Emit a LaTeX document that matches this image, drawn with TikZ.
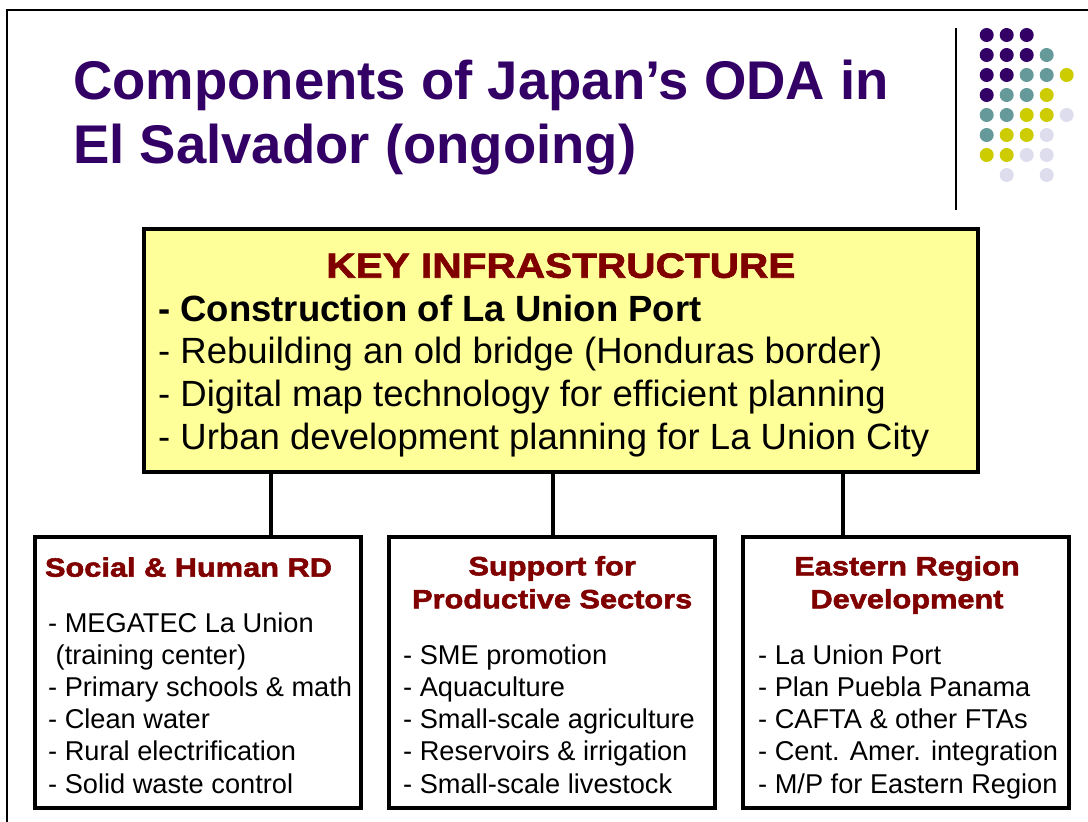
\documentclass[tikz,border=0pt]{standalone}
\usepackage{fontspec}
\setmainfont{Liberation Sans}
\newfontfamily\headfont{Liberation Sans}[FakeStretch=1.16,FakeBold=2]
\usepackage{xcolor}
\usepackage{tikz}

\definecolor{odapurple}{HTML}{330066}
\definecolor{odared}{HTML}{800000}
\definecolor{odayellow}{HTML}{FFFF99}
\definecolor{dotteal}{HTML}{669999}
\definecolor{dotolive}{HTML}{CCCC00}
\definecolor{dotlilac}{HTML}{DDDDEE}

\begin{document}
\begin{tikzpicture}[x=1pt,y=-1pt]
    \tikzset{
      keybox/.style={draw, line width=4pt, fill=odayellow, minimum width=834pt, minimum height=243pt, inner sep=0pt},
      subbox/.style={draw, line width=4pt, fill=white, minimum width=326.5pt, minimum height=271pt, inner sep=0pt},
      title/.style={anchor=base west, inner sep=0pt, text=odapurple, font=\bfseries\fontsize{54.5}{65}\selectfont},
      keyhead/.style={anchor=base, inner sep=0pt, text=odared, font=\headfont\bfseries\fontsize{35}{40}\selectfont},
      head/.style={anchor=base, inner sep=0pt, align=center, text=odared, font=\headfont\bfseries\fontsize{26.5}{33}\selectfont},
      keyitem/.style={anchor=base west, inner sep=0pt, font=\fontsize{36.5}{43}\selectfont},
      item/.style={anchor=base west, inner sep=0pt, font=\fontsize{27.2}{32}\selectfont},
      link/.style={line width=4pt}
    }
    \useasboundingbox (0,0) rectangle (1088,822);
    \draw[line width=2pt] (1088,10) -- (7,10) -- (7,822);
    % title and dot pattern
    \node[title] (title1) at (73,99) {Components of Japan’s ODA in};
    \node[title] (title2) at (73,163) {El Salvador (ongoing)};
    \draw[line width=1.2pt] (956,28) -- (956,210);
    \foreach \c/\r in {0/0,1/0,2/0,0/1,1/1,2/1,0/2,1/2,0/3}
      \fill[odapurple] ({986.7+20*\c},{35+20*\r}) circle (7pt);
    \foreach \c/\r in {3/1,2/2,3/2,1/3,2/3,0/4,1/4,0/5}
      \fill[dotteal] ({986.7+20*\c},{35+20*\r}) circle (7pt);
    \foreach \c/\r in {4/2,3/3,2/4,3/4,1/5,2/5,0/6,1/6}
      \fill[dotolive] ({986.7+20*\c},{35+20*\r}) circle (7pt);
    \foreach \c/\r in {4/4,3/5,2/6,3/6,1/7,3/7}
      \fill[dotlilac] ({986.7+20*\c},{35+20*\r}) circle (7pt);
    % boxes
    \node[keybox] (key) at (560.9,350.5) {};
    \node[subbox] (social) at (197.75,672.5) {};
    \node[subbox] (productive) at (552.2,672.5) {};
    \node[subbox] (eastern) at (906,672.5) {};
    \foreach \x/\name in {270.5/social,552.7/productive,843/eastern} {
      \coordinate (j\name) at (\x,500);
      \draw[link] (j\name |- key.south) -- (j\name |- \name.north);
    }
    % key infrastructure
    \node[keyhead] (keytitle) at (560.9,277.7) {KEY INFRASTRUCTURE};
    \foreach \t [count=\i] in {{\bfseries - Construction of La Union Port},
        {- Rebuilding an old bridge (Honduras border)},
        {- Digital map technology for efficient planning},
        {- Urban development planning for La Union City}}
      \node[keyitem] (k\i) at (158,{321+42.8*(\i-1)}) {\t};
    % three components
    \node[head] (socialhead) at (188.5,576.7) {Social \& Human RD};
    \node[head] (productivehead) at (552.2,608.3) {Support for\\Productive Sectors};
    \node[head] (easternhead) at (907,608.3) {Eastern Region\\Development};
    \foreach \t [count=\i] in {{- MEGATEC La Union}, {\hspace{7.5pt}(training center)},
        {- Primary schools \& math}, {- Clean water}, {- Rural electrification},
        {- Solid waste control}}
      \node[item] (s\i) at (48,{632.5+32.1*(\i-1)}) {\t};
    \foreach \t [count=\i] in {{- SME promotion}, {- Aquaculture}, {- Small-scale agriculture},
        {- Reservoirs \& irrigation}, {- Small-scale livestock}}
      \node[item] (p\i) at (403,{664.6+32.1*(\i-1)}) {\t};
    \foreach \t [count=\i] in {{- La Union Port}, {- Plan Puebla Panama}, {- CAFTA \& other FTAs},
        {- Cent. Amer. integration}, {- M/P for Eastern Region}}
      \node[item] (e\i) at (758,{664.6+32.1*(\i-1)}) {\t};
\end{tikzpicture}
\end{document}
